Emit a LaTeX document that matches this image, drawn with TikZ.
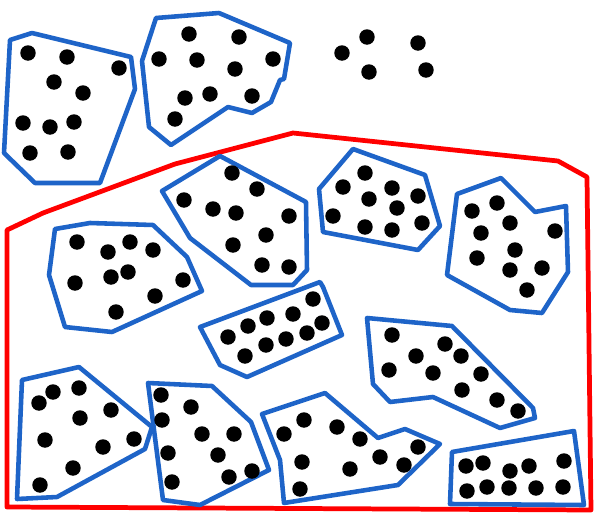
\documentclass[tikz,border=0pt]{standalone}
\usepackage{tikz}
\definecolor{clusterblue}{RGB}{30,100,200}
\definecolor{regionred}{RGB}{255,0,0}

\begin{document}
\begin{tikzpicture}[
  x=0.02cm, y=-0.02cm,
  cluster/.style={draw=clusterblue, line width=2.6pt, line join=round},
  region/.style={draw=regionred, line width=2.7pt, line join=round},
  point/.style={fill=black}
]
  \useasboundingbox (0,0) rectangle (600,518);

  % Outer region
  \draw[region] (7,507) -- (7,230) -- (43,213) -- (175,164) -- (293,133)
    -- (558,161) -- (587,177) -- (591,510) -- cycle;

  % Clusters
  \draw[cluster] (10,40) -- (32,33) -- (131,57) -- (135,89) -- (100,183) -- (35,183) -- (4,153) -- cycle;
  \draw[cluster] (156,18) -- (219,13) -- (290,43) -- (284,79) -- (280,80) -- (271,102) -- (252,113)
    -- (228,107) -- (171,145) -- (149,127) -- (142,61) -- cycle;
  \draw[cluster] (162,191) -- (220,156) -- (306,202) -- (307,270) -- (293,285) -- (251,285) -- (190,238) -- cycle;
  \draw[cluster] (319,189) -- (353,149) -- (425,175) -- (440,226) -- (418,250) -- (323,232) -- cycle;
  \draw[cluster] (457,194) -- (501,178) -- (535,212) -- (566,206) -- (568,272) -- (542,313) -- (510,310) -- (447,275) -- cycle;
  \draw[cluster] (55,229) -- (90,223) -- (153,225) -- (187,257) -- (202,291) -- (112,332) -- (65,327) -- (49,275) -- cycle;
  \draw[cluster] (200,327) -- (320,282) -- (323,287) -- (342,335) -- (247,377) -- (220,365) -- cycle;
  \draw[cluster] (367,318) -- (452,326) -- (533,408) -- (535,418) -- (500,428) -- (433,397) -- (390,402) -- (373,384) -- cycle;
  \draw[cluster] (22,380) -- (79,367) -- (152,427) -- (145,449) -- (57,497) -- (17,499) -- cycle;
  \draw[cluster] (148,383) -- (212,386) -- (251,422) -- (269,470) -- (200,505) -- (163,500) -- cycle;
  \draw[cluster] (262,414) -- (325,393) -- (378,438) -- (405,429) -- (440,444) -- (398,485) -- (284,503) -- (280,460) -- cycle;
  \draw[cluster] (452,452) -- (574,431) -- (584,505) -- (450,504) -- cycle;

  % Points
  \foreach \px/\py in {
    28/53, 67/57, 119/68, 54/82, 83/93, 23/123, 50/127, 74/122, 30/153, 68/152,
    189/34, 239/37, 159/59, 197/60, 235/69, 273/59, 185/98, 210/94, 252/96, 175/119,
    342/53, 367/37, 369/72, 418/43, 426/70,
    232/173, 257/189, 184/200, 213/209, 236/213, 289/216, 266/235, 233/245, 262/265, 289/267,
    365/173, 343/187, 392/188, 418/196, 369/199, 397/208, 333/216, 365/227, 392/230, 422/223,
    472/211, 497/203, 510/223, 555/231, 481/233, 515/250, 477/258, 542/268, 510/270, 527/290,
    77/242, 108/252, 130/242, 153/250, 128/272, 111/277, 75/283, 183/280, 155/296, 116/312,
    228/337, 248/326, 267/318, 293/314, 313/299, 245/356, 266/345, 286/339, 307/333, 322/323,
    392/335, 445/344, 416/356, 461/356, 389/370, 433/373, 481/374, 462/390, 497/400, 518/411,
    39/403, 53/392, 79/388, 111/410, 80/418, 45/440, 103/447, 134/439, 73/468, 40/485,
    161/395, 191/407, 162/420, 202/434, 234/434, 168/453, 218/455, 172/482, 229/477, 252/471,
    304/420, 284/434, 337/427, 360/439, 380/457, 418/447, 404/465, 302/462, 350/469, 300/489,
    466/466, 483/463, 510/471, 529/466, 564/461, 467/491, 487/487, 509/488, 536/488, 563/487}
    \fill[point] (\px,\py) circle[radius=0.155cm];
\end{tikzpicture}
\end{document}
